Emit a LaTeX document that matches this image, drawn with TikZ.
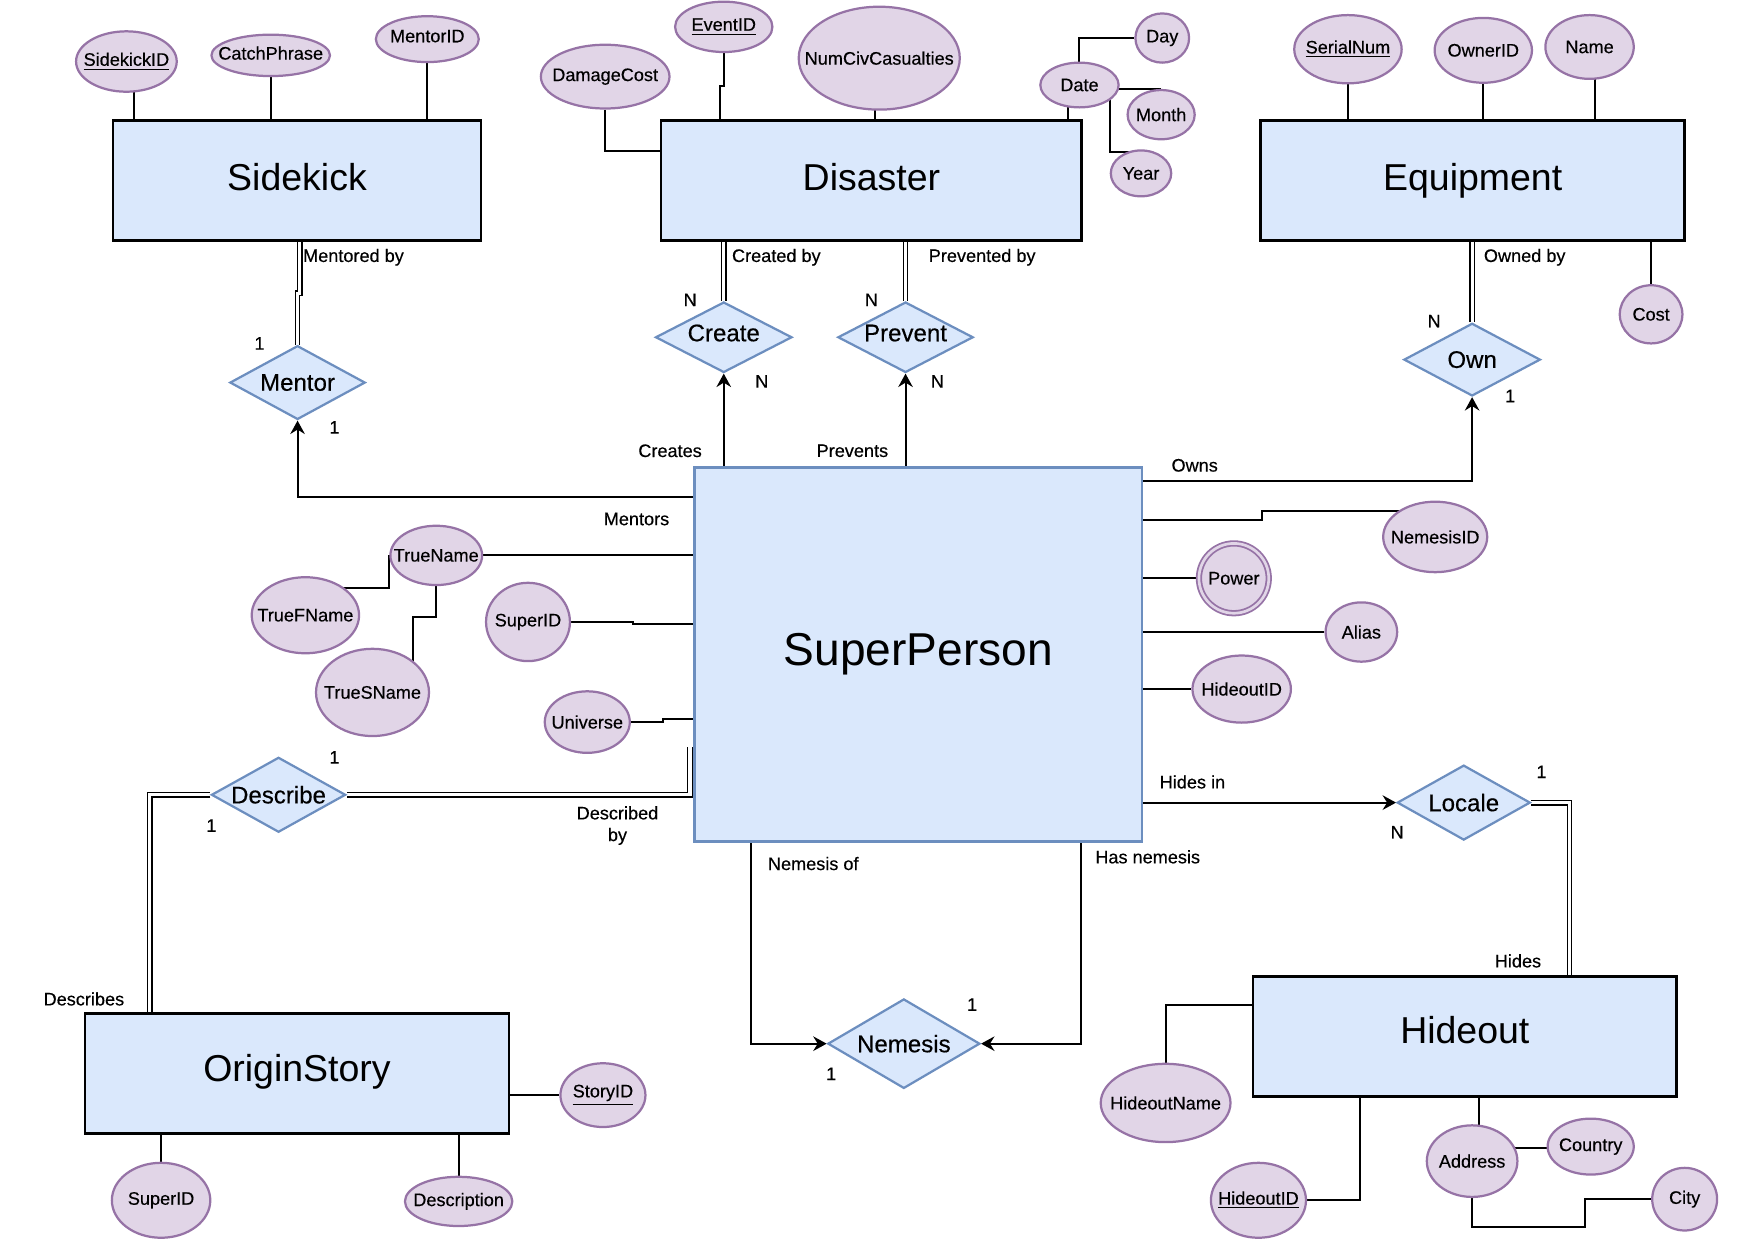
\documentclass[tikz,border=0pt]{standalone}
\usepackage{fontspec}
\setmainfont{Liberation Sans}
\newfontfamily\smallfam[FakeBold=0.35]{Liberation Sans}
\usetikzlibrary{shapes.geometric,arrows.meta,calc}
\pgfdeclarelayer{bg}
\pgfsetlayers{bg,main}
\definecolor{entfill}{HTML}{DAE8FC}
\definecolor{relborder}{HTML}{6C8EBF}
\definecolor{attrfill}{HTML}{E1D5E7}
\definecolor{attrborder}{HTML}{9673A6}
\newcommand{\zw}[1]{\makebox[0pt]{#1}}
\newcommand{\zr}[2]{\makebox[0pt]{\raisebox{#1}[0pt][0pt]{#2}}}
\begin{document}
\begin{tikzpicture}[x=0.5pt,y=-0.5pt,
  ent/.style={rectangle, draw=black, line width=1.2pt, fill=entfill, inner sep=0pt, font=\fontsize{16.75}{20}\selectfont},
  rel/.style={diamond, aspect=1.8, draw=relborder, fill=entfill, line width=1pt, inner sep=0pt, font=\smallfam\fontsize{10.75}{12}\selectfont},
  attr/.style={ellipse, draw=attrborder, fill=attrfill, line width=1pt, inner sep=0pt, font=\smallfam\fontsize{8.1}{9.7}\selectfont},
  lbl/.style={inner sep=0pt, font=\smallfam\fontsize{8.1}{9.7}\selectfont},
  ln/.style={draw=black, line width=0.9pt},
  dbl/.style={draw=black, line width=0.6pt, double=white, double distance=1.4pt},
  arr/.style={ln, -{Stealth[length=6pt,width=6.5pt,inset=2pt]}}
]
\useasboundingbox (0,0) rectangle (1568,1112);

% ---------- entities ----------
\node[ent, minimum width=164.5pt, minimum height=53.5pt] (sk)  at (265.5,161.5) {\zr{-4.5pt}{Sidekick}};
\node[ent, minimum width=188pt,   minimum height=53.5pt] (dis) at (779,161.5)   {\zr{-4.5pt}{Disaster}};
\node[ent, minimum width=189.5pt, minimum height=53.5pt] (eq)  at (1316.5,161.5){\zr{-4.5pt}{Equipment}};
\node[ent, draw=relborder, minimum width=200pt, minimum height=167pt, font=\fontsize{20.6}{24}\selectfont] (sp) at (821,585) {\zr{-5pt}{SuperPerson}};
\node[ent, minimum width=189.5pt, minimum height=53.5pt] (os)  at (265.5,959.5) {\zr{-3.75pt}{OriginStory}};
\node[ent, minimum width=189.5pt, minimum height=53.5pt] (ho)  at (1309.5,926.5){\zr{-3.25pt}{Hideout}};

% ---------- relationships ----------
\node[rel, minimum width=60.5pt, minimum height=33pt]   (men) at (266,342)     {Mentor};
\node[rel, minimum width=61pt,   minimum height=31.5pt] (cre) at (647,301.5)   {\zr{-1.8pt}{Create}};
\node[rel, minimum width=60.5pt, minimum height=31.5pt] (pre) at (809.5,301.5) {\zr{-1.8pt}{Prevent}};
\node[rel, minimum width=61pt,   minimum height=32.5pt] (own) at (1316,321.5)  {Own};
\node[rel, minimum width=60pt,   minimum height=33.5pt] (des) at (249,710.5)   {\zw{Describe}};
\node[rel, minimum width=59.5pt, minimum height=33.5pt] (loc) at (1308.5,717.5){Locale};
\node[rel, minimum width=68pt,   minimum height=40pt]   (nem) at (808,933)     {Nemesis};

% ---------- attributes ----------
\node[attr, minimum width=45pt,   minimum height=27pt]   (aSkid)    at (113,55)    {\zw{\underline{SidekickID}}};
\node[attr, minimum width=53pt,   minimum height=18.5pt] (aCatch)   at (242,49.5)  {\zr{-1.9pt}{CatchPhrase}};
\node[attr, minimum width=46pt,   minimum height=20.5pt] (aMid)     at (382,35)    {\zr{-1.4pt}{MentorID}};
\node[attr, minimum width=57.5pt, minimum height=28.5pt] (aDmg)     at (541,68.5)  {\zw{DamageCost}};
\node[attr, minimum width=43.5pt, minimum height=22.5pt] (aEvid)    at (647,24)    {\zw{\underline{EventID}}};
\node[attr, minimum width=72pt,   minimum height=46pt]   (aNum)     at (786,52)    {\zw{NumCivCasualties}};
\node[attr, minimum width=35pt,   minimum height=20pt]   (aDate)    at (965,76)    {\zw{Date}};
\node[attr, minimum width=24pt,   minimum height=22pt]   (aDay)     at (1039,34)   {\zw{Day}};
\node[attr, minimum width=30pt,   minimum height=22pt]   (aMonth)   at (1038,102.5){\zw{Month}};
\node[attr, minimum width=27pt,   minimum height=20.5pt] (aYear)    at (1020,155)  {\zw{Year}};
\node[attr, minimum width=48pt,   minimum height=30.5pt] (aSer)     at (1205,44)   {\zw{\underline{SerialNum}}};
\node[attr, minimum width=43.5pt, minimum height=29pt]   (aOwn)     at (1326,45)   {\zw{OwnerID}};
\node[attr, minimum width=39.5pt, minimum height=28.5pt] (aName)    at (1421,42)   {\zw{Name}};
\node[attr, minimum width=28pt,   minimum height=26pt]   (aCost)    at (1476,281)  {\zw{Cost}};
\node[attr, minimum width=46.5pt, minimum height=31.5pt] (aNid)     at (1283,480)  {\zw{NemesisID}};
\node[attr, double=attrfill, line width=0.8pt, double distance=1.2pt, minimum width=31.2pt, minimum height=31.2pt] (aPow) at (1103,517) {\zw{Power}};
\node[attr, minimum width=32pt,   minimum height=26.5pt] (aAlias)   at (1217,565)  {\zw{Alias}};
\node[attr, minimum width=44pt,   minimum height=30pt]   (aHidA)    at (1110,616)  {\zw{HideoutID}};
\node[attr, minimum width=41pt,   minimum height=26.5pt] (aTn)      at (390,496.5) {\zw{TrueName}};
\node[attr, minimum width=48pt,   minimum height=34pt]   (aTfn)     at (273,550)   {\zw{TrueFName}};
\node[attr, minimum width=50.5pt, minimum height=39pt]   (aTsn)     at (333,619)   {\zw{TrueSName}};
\node[attr, minimum width=37.5pt, minimum height=35pt]   (aSidA)    at (472,556)   {\zw{SuperID}};
\node[attr, minimum width=38pt,   minimum height=27.5pt] (aUni)     at (525,645.5) {\zw{Universe}};
\node[attr, minimum width=38pt,   minimum height=28.5pt] (aStory)   at (539,979)   {\zw{\underline{StoryID}}};
\node[attr, minimum width=44pt,   minimum height=33.5pt] (aSidB)    at (144,1073)  {\zw{SuperID}};
\node[attr, minimum width=48pt,   minimum height=22pt]   (aDesc)    at (410,1074)  {\zw{Description}};
\node[attr, minimum width=58pt,   minimum height=35pt]   (aHname)   at (1042,986)  {\zw{HideoutName}};
\node[attr, minimum width=42.5pt, minimum height=33.5pt] (aHidB)    at (1125,1073) {\zw{\underline{HideoutID}}};
\node[attr, minimum width=40.5pt, minimum height=32pt]   (aAddr)    at (1316,1038) {\zw{Address}};
\node[attr, minimum width=38.5pt, minimum height=25pt]   (aCountry) at (1422,1025) {\zw{Country}};
\node[attr, minimum width=29pt,   minimum height=28pt]   (aCity)    at (1506,1072) {\zw{City}};

% ---------- labels ----------
\node[lbl] (l1)  at (316,230)  {Mentored by};
\node[lbl] (l2)  at (232,307)  {1};
\node[lbl] (l3)  at (299,382)  {1};
\node[lbl] (l4)  at (569,464)  {Mentors};
\node[lbl] (l5)  at (694,230)  {Created by};
\node[lbl] (l6)  at (617,268)  {N};
\node[lbl] (l7)  at (681,341)  {N};
\node[lbl] (l8)  at (599,403)  {Creates};
\node[lbl] (l9)  at (878,230)  {Prevented by};
\node[lbl] (l10) at (779,268)  {N};
\node[lbl] (l11) at (838,341)  {N};
\node[lbl] (l12) at (762,403)  {Prevents};
\node[lbl] (l13) at (1363,230) {Owned by};
\node[lbl] (l14) at (1282,287) {N};
\node[lbl] (l15) at (1350,354) {1};
\node[lbl] (l16) at (1068,416) {Owns};
\node[lbl] (l17) at (1066,699) {Hides in};
\node[lbl] (l18) at (1249,744) {N};
\node[lbl] (l19) at (1378,690) {1};
\node[lbl] (l20) at (1357,859) {Hides};
\node[lbl, align=center] (l21) at (552,738) {Described\\by};
\node[lbl] (l22) at (299,677)  {1};
\node[lbl] (l23) at (189,738)  {1};
\node[lbl] (l24) at (75,893)   {Describes};
\node[lbl] (l25) at (727,772)  {Nemesis of};
\node[lbl] (l26) at (743,960)  {1};
\node[lbl] (l27) at (1026,766) {Has nemesis};
\node[lbl] (l28) at (869,898)  {1};

% ---------- connectors ----------
\begin{pgfonlayer}{bg}
% Sidekick attributes
\draw[ln] (aSkid -| 120,0) -- (sk.north -| 120,0);
\draw[ln] (aCatch) -- (aCatch |- sk.north);
\draw[ln] (aMid) -- (aMid |- sk.north);
% Disaster attributes
\draw[ln] (aDmg) |- (dis.west |- 0,135);
\draw[ln] (aEvid) -- (aEvid |- 0,77) -- (644,77) -- (dis.north -| 644,0);
\draw[ln] (aNum -| 782,0) -- (dis.north -| 782,0);
\draw[ln] (aDate -| 955,0) -- (dis.north -| 955,0);
\draw[ln] (aDate) |- (aDay);
\draw[ln] (aDate |- aMonth.north) -- (aMonth.north);
\draw[ln] (aDate -| 992,0) |- (aYear |- 0,136);
% Equipment attributes
\draw[ln] (aSer) -- (aSer |- eq.north);
\draw[ln] (aOwn) -- (aOwn |- eq.north);
\draw[ln] (aName -| 1426,0) -- (eq.north -| 1426,0);
\draw[ln] (aCost) -- (aCost |- eq.south);
% relationships
\draw[dbl] (men.north) -- (men.north |- 0,262) -- (268,262) -- (sk.south -| 268,0);
\draw[arr] (sp.west |- 0,444) -| (men.south);
\draw[dbl] (cre.north) -- (cre.north |- dis.south);
\draw[arr] (sp.north -| cre.south) -- (cre.south);
\draw[dbl] (pre.north) -- (pre.north |- dis.south);
\draw[arr] (sp.north -| pre.south) -- (pre.south);
\draw[dbl] (own.north) -- (own.north |- eq.south);
\draw[arr] (sp.east |- 0,430) -| (own.south);
\draw[arr] (sp.east |- loc.west) -- (loc.west);
\draw[dbl] (loc.east) -| (ho.north -| 1403,0);
\draw[dbl] (des.east) -| ($(sp.west |- 0,668)+(-3,0)$);
\draw[dbl] (des.west) -| (os.north -| 134,0);
\draw[arr] (sp.south -| 671,0) |- (nem.west);
\draw[arr] (sp.south -| 966,0) |- (nem.east);
% SuperPerson attributes
\draw[ln] (aTn) -- (sp.west |- aTn);
\draw[ln] (aTn.west) |- (aTfn |- 0,526);
\draw[ln] (aTn) -- (aTn |- 0,552) -| (aTsn -| 369,0);
\draw[ln] (aSidA) -- (aSidA -| 566,0) |- (sp.west |- 0,558);
\draw[ln] (aUni) -- (aUni -| 593,0) |- (sp.west |- 0,643);
\draw[ln] (sp.east |- 0,465) -- (1128,465) |- (aNid |- 0,457);
\draw[ln] (sp.east |- aPow) -- (aPow);
\draw[ln] (sp.east |- aAlias) -- (aAlias);
\draw[ln] (sp.east |- aHidA) -- (aHidA);
% OriginStory attributes
\draw[ln] (os.east |- aStory) -- (aStory);
\draw[ln] (aSidB) -- (aSidB |- os.south);
\draw[ln] (aDesc) -- (aDesc |- os.south);
% Hideout attributes
\draw[ln] (ho.west |- 0,898) -| (aHname);
\draw[ln] (ho.south -| 1216,0) |- (aHidB);
\draw[ln] (ho.south -| 1322,0) -- (aAddr -| 1322,0);
\draw[ln] (aAddr |- 0,1026) -- (aCountry |- 0,1026);
\draw[ln] (aAddr) |- (1417,1097) |- (aCity);
\end{pgfonlayer}
\end{tikzpicture}
\end{document}
